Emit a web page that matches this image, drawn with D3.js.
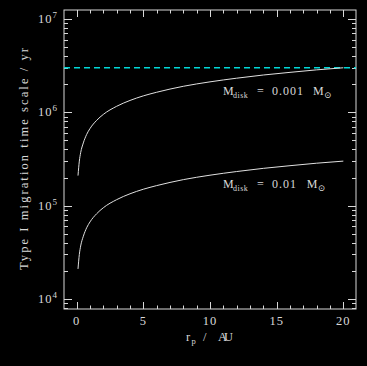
<!DOCTYPE html>
<html><head><meta charset="utf-8">
<script src="https://cdn.jsdelivr.net/npm/d3@7"></script>
<style>html,body{margin:0;padding:0;background:#000;}svg{display:block;}</style>
</head><body>
<svg id="c" width="367" height="366"></svg>
<script>
// Data
const radii = [0.1,0.2,0.3,0.5,0.75,1,1.5,2,3,4,5,6,8,10,12,14,16,18,20];
const tauLowMass = [2.1e5,3.0e5,3.7e5,4.7e5,5.8e5,6.7e5,8.2e5,9.5e5,1.16e6,1.34e6,1.5e6,1.64e6,1.9e6,2.12e6,2.32e6,2.51e6,2.68e6,2.85e6,3.0e6];
const tauHighMass = [2.1e4,3.0e4,3.7e4,4.7e4,5.8e4,6.7e4,8.2e4,9.5e4,1.16e5,1.34e5,1.5e5,1.64e5,1.9e5,2.12e5,2.32e5,2.51e5,2.68e5,2.85e5,3.0e5];
const referenceLevel = 3e6;
const xTicks = [0,5,10,15,20];
const yTickExps = [4,5,6,7];
const curveLabels = ["0.001","0.01"];

const svg = d3.select("#c");
const W=367,H=366;
svg.append("rect").attr("width",W).attr("height",H).attr("fill","#000");
const L=64,R=356,T=10,B=309;
const x = d3.scaleLinear().domain([-0.95,20.95]).range([L,R]);
const y = d3.scaleLog().domain([10**3.893,10**7.096]).range([B,T]);
const fg="#d8d8d8";
const font="'Liberation Serif','DejaVu Serif',serif";

const g = svg.append("g");
g.append("rect").attr("x",L).attr("y",T).attr("width",R-L).attr("height",B-T)
 .attr("fill","none").attr("stroke",fg).attr("stroke-width",1);

// x ticks (bottom & top, inward)
const xMinor = d3.range(0,21);
xMinor.forEach(v=>{
  const len = v%5===0?7:3.5;
  const px = Math.round(x(v))+0.5;
  g.append("line").attr("x1",px).attr("x2",px).attr("y1",B).attr("y2",B-len).attr("stroke",fg);
  g.append("line").attr("x1",px).attr("x2",px).attr("y1",T).attr("y2",T+len).attr("stroke",fg);
});
xTicks.forEach(v=>{
  g.append("text").attr("x",x(v)).attr("y",325).attr("text-anchor","middle")
   .attr("font-family",font).attr("font-size",12.5).attr("letter-spacing",1).attr("fill",fg).text(v);
});

// y ticks
const [ymin,ymax]=y.domain();
for(let e=3;e<=7;e++){
  for(let m=1;m<=9;m++){
    const v=m*10**e;
    if(v<ymin||v>ymax) continue;
    const len = m===1?8:4;
    const py = Math.round(y(v))+0.5;
    g.append("line").attr("x1",L).attr("x2",L+len).attr("y1",py).attr("y2",py).attr("stroke",fg);
    g.append("line").attr("x1",R).attr("x2",R-len).attr("y1",py).attr("y2",py).attr("stroke",fg);
  }
}
yTickExps.forEach(e=>{
  const t=g.append("text").attr("x",57).attr("y",y(10**e)+4).attr("text-anchor","end")
   .attr("font-family",font).attr("font-size",12.5).attr("fill",fg);
  t.append("tspan").attr("letter-spacing",1).text("10");
  t.append("tspan").attr("dy",-5).attr("font-size",9).text(e);
});

// axis titles
const xl=g.append("text").attr("y",341).attr("font-family",font).attr("font-size",12.5).attr("fill",fg);
xl.append("tspan").attr("x",186).text("r");
xl.append("tspan").attr("x",191.5).attr("dy",3).attr("font-size",8.5).text("p");
xl.append("tspan").attr("x",203).attr("dy",-3).text("/");
xl.append("tspan").attr("x",218).attr("textLength",15).text("AU");

g.append("text").attr("transform","translate(27.5,159) rotate(-90)").attr("text-anchor","middle")
  .attr("font-family",font).attr("font-size",12.5).attr("fill",fg)
  .attr("textLength",222).attr("lengthAdjust","spacing")
  .text("Type I migration time scale / yr");

// reference line
g.append("line").attr("x1",L).attr("x2",R).attr("y1",y(referenceLevel)).attr("y2",y(referenceLevel))
 .attr("stroke","#00d8d8").attr("stroke-width",1.3).attr("stroke-dasharray","6,4");

// curves
const line = d3.line().x(d=>x(d[0])).y(d=>y(d[1])).curve(d3.curveMonotoneX);
[tauLowMass,tauHighMass].forEach(arr=>{
  g.append("path").attr("d",line(radii.map((r,i)=>[r,arr[i]])))
   .attr("fill","none").attr("stroke","#e0e0e0").attr("stroke-width",1);
});

// curve labels
[[95,curveLabels[0]],[188,curveLabels[1]]].forEach(([yy,val])=>{
  const t=g.append("text").attr("y",yy).attr("font-family",font)
    .attr("font-size",12).attr("fill",fg);
  t.append("tspan").attr("x",223).text("M");
  t.append("tspan").attr("x",233).attr("dy",3).attr("font-size",8).attr("letter-spacing",0.5).text("disk");
  t.append("tspan").attr("x",257).attr("dy",-3).text("=");
  const numW = val.length*6.2;
  t.append("tspan").attr("x",272).attr("letter-spacing",1).text(val);
  t.append("tspan").attr("x",272+numW+10).text("M");
  t.append("tspan").attr("x",272+numW+21).attr("dy",3).attr("font-size",9).text("\u2299");
});
</script>
</body></html>
